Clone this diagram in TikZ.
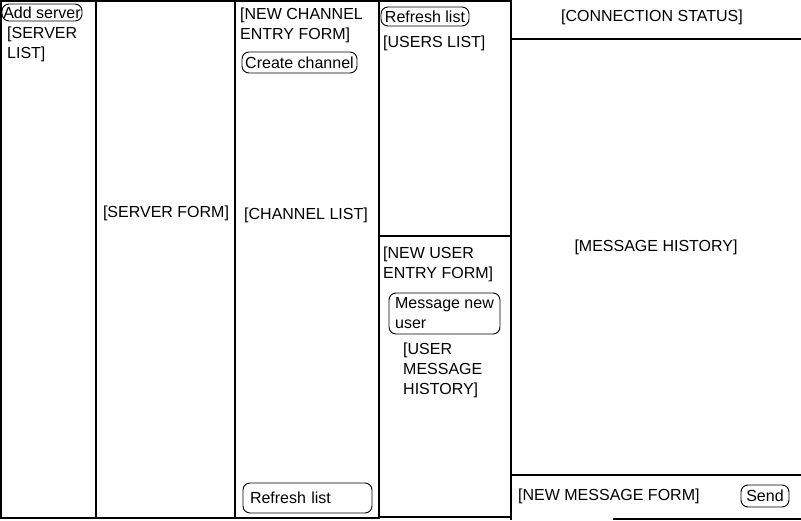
\documentclass[tikz,border=0pt]{standalone}
\usepackage{fontspec}
\setmainfont{Liberation Sans}
\begin{document}
\begin{tikzpicture}[x=1pt,y=-1pt,
  uifont/.style={font=\fontsize{16}{20}\selectfont},
  panel/.style={draw, line width=2pt},
  divider/.style={draw, line width=1.2pt},
  btn/.style={draw, rounded corners=7pt, line width=0.9pt, inner ysep=0pt, uifont},
  lbl/.style={inner sep=0pt, anchor=north west, align=left, uifont, execute at begin node=\strut},
  clbl/.style={lbl, anchor=north, align=center},
]
\useasboundingbox (0,0) rectangle (801,520);

% columns
\draw[panel] (1,1) rectangle (96,518);
\draw[panel] (96,1) rectangle (235,518);
\draw[panel] (235,1) rectangle (379,518);
\draw[divider] (379,1) rectangle (511,517);
\draw[divider] (379,236) -- (511,236);

% chat area
\draw[divider] (511,0) -- (511,520);
\draw[divider] (511,39) -- (801,39);
\draw[divider] (511,475) -- (801,475);
\draw[divider] (613,519) -- (801,519);

% servers
\node[btn, minimum width=80pt, minimum height=17pt, inner xsep=1pt] (addserver) at (42,12.5) {Add server};
\node[lbl] (serverlist) at (7,27) {[SERVER\\LIST]};
\node[clbl] (serverform) at (166,203) {[SERVER FORM]};

% channels
\node[lbl] (channelform) at (240,8) {[NEW CHANNEL\\ENTRY FORM]};
\node[btn, minimum width=115pt, minimum height=21pt, inner xsep=2pt] (createchannel) at (299.5,62.5) {Create channel};
\node[clbl] (channellist) at (306,205) {[CHANNEL LIST]};
\node[btn, text width=115pt, inner xsep=7pt, minimum height=30pt, align=left] (refreshchannels) at (307.5,498) {Refresh list};

% users
\node[btn, minimum width=88pt, minimum height=19pt, inner xsep=2pt] (refreshusers) at (425,16.5) {Refresh list};
\node[lbl] (userslist) at (383,33) {[USERS LIST]};
\node[lbl] (userform) at (383,247) {[NEW USER\\ENTRY FORM]};
\node[btn, minimum width=111pt, minimum height=41pt, inner xsep=2pt, align=left,
      font=\fontsize{16}{20}\selectfont] (messageuser) at (444.5,313.5) {Message new\\user};
\node[lbl] (userhistory) at (403,343) {[USER\\MESSAGE\\HISTORY]};

% chat
\node[clbl] (connstatus) at (652,7) {[CONNECTION STATUS]};
\node[clbl] (msghistory) at (656,237) {[MESSAGE HISTORY]};
\node[lbl] (msgform) at (518,486) {[NEW MESSAGE FORM]};
\node[btn, minimum width=48pt, minimum height=22pt, inner xsep=2pt] (send) at (765,496) {Send};
\end{tikzpicture}
\end{document}
